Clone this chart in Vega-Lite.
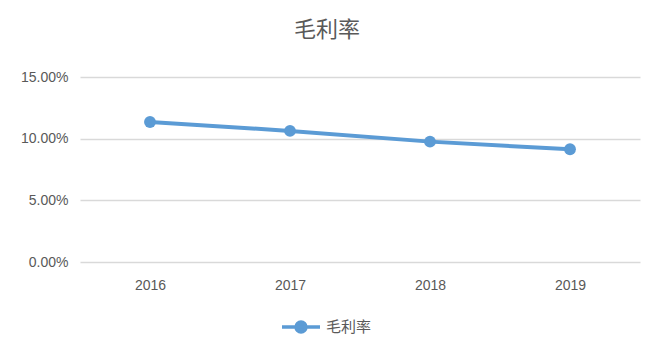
{
  "$schema": "https://vega.github.io/schema/vega-lite/v6.json",
  "width": 560,
  "height": 185,
  "autosize": "none",
  "padding": {"left": 80, "top": 77, "right": 23, "bottom": 94},
  "background": "white",
  "title": {
    "text": "毛利率",
    "fontSize": 22,
    "font": "Noto Sans CJK SC",
    "fontWeight": "normal",
    "color": "#595959",
    "anchor": "middle",
    "dx": -33,
    "offset": 28
  },
  "data": {
    "values": [
      {"year": "2016", "series": "毛利率", "value": 0.1135},
      {"year": "2017", "series": "毛利率", "value": 0.1063},
      {"year": "2018", "series": "毛利率", "value": 0.0976},
      {"year": "2019", "series": "毛利率", "value": 0.0914}
    ]
  },
  "mark": {"type": "line", "strokeWidth": 4, "point": {"size": 140, "filled": true, "opacity": 1}},
  "encoding": {
    "x": {
      "field": "year",
      "type": "ordinal",
      "title": null,
      "scale": {"paddingInner": 0, "paddingOuter": 0.5},
      "axis": {
        "labelAngle": 0,
        "domain": false,
        "ticks": false,
        "labelPadding": 16,
        "labelFont": "Liberation Sans",
        "labelFontSize": 14,
        "labelColor": "#595959"
      }
    },
    "y": {
      "field": "value",
      "type": "quantitative",
      "title": null,
      "scale": {"domain": [0, 0.15]},
      "axis": {
        "values": [0, 0.05, 0.1, 0.15],
        "format": ".2%",
        "domain": false,
        "ticks": false,
        "labelPadding": 12,
        "labelFont": "Liberation Sans",
        "labelFontSize": 14,
        "labelColor": "#595959",
        "gridColor": "#D9D9D9",
        "gridWidth": 1.5
      }
    },
    "color": {
      "field": "series",
      "type": "nominal",
      "scale": {"range": ["#5B9BD5"]},
      "legend": {
        "title": null,
        "orient": "none",
        "legendX": 200,
        "legendY": 229,
        "symbolType": "M -1 0 H 1 M -0.26 0 A 0.26 0.26 0 1 1 0.26 0 A 0.26 0.26 0 1 1 -0.26 0 Z",
        "symbolSize": 1444,
        "symbolStrokeWidth": 3.5,
        "symbolFillColor": "#5B9BD5",
        "symbolStrokeColor": "#5B9BD5",
        "labelFont": "Noto Sans CJK SC",
        "labelFontSize": 15,
        "labelColor": "#595959",
        "labelOffset": 4
      }
    }
  },
  "config": {"view": {"stroke": null}}
}
